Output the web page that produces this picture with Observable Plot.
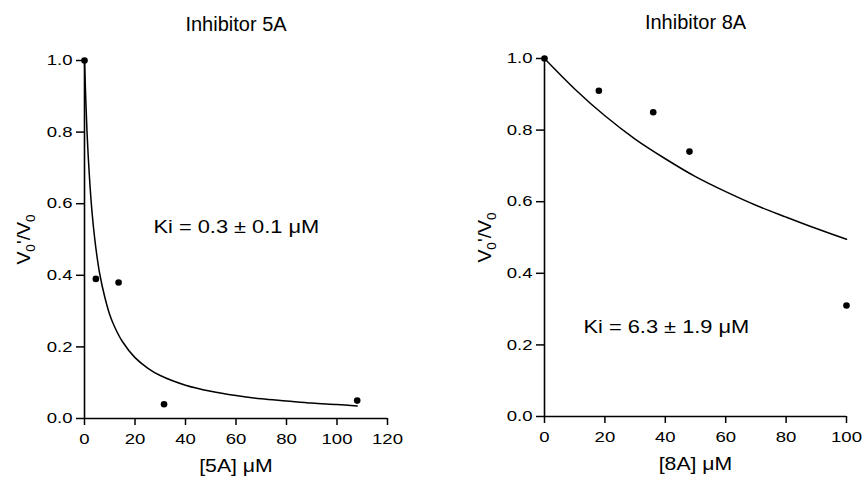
<!DOCTYPE html>
<html><head><meta charset="utf-8">
<script src="https://cdn.jsdelivr.net/npm/d3@7"></script>
<script src="https://cdn.jsdelivr.net/npm/@observablehq/plot@0.6"></script>
<style>
body{margin:0;background:#fff;}
#wrap{display:flex;width:866px;height:479px;overflow:hidden;}
</style></head><body><div id="wrap"></div>
<script>
// ---- data ----
const inhib5A_conc  = [0, 4.5, 13.5, 31.5, 108];
const inhib5A_ratio = [1.0, 0.39, 0.38, 0.04, 0.05];
const fit5A_conc  = [0, 1, 2, 3, 4, 5, 6, 8, 10, 12, 15, 20, 25, 30, 40, 50, 60, 70, 80, 90, 100, 108];
const fit5A_ratio = [1.0, 0.80, 0.67, 0.575, 0.505, 0.45, 0.405, 0.34, 0.29, 0.255, 0.215, 0.17, 0.141, 0.12, 0.093, 0.076, 0.064, 0.055, 0.049, 0.043, 0.039, 0.035];

const inhib8A_conc  = [0, 18, 36, 48, 100];
const inhib8A_ratio = [1.0, 0.91, 0.85, 0.74, 0.31];
const fit8A_conc  = [0, 10, 20, 30, 40, 50, 60, 70, 80, 90, 100];
const fit8A_ratio = [1.0, 0.915, 0.84, 0.775, 0.72, 0.67, 0.628, 0.59, 0.557, 0.525, 0.495];

const yTicks = [0, 0.2, 0.4, 0.6, 0.8, 1.0];
const xTicks5A = [0, 20, 40, 60, 80, 100, 120];
const xTicks8A = [0, 20, 40, 60, 80, 100];
const panelTitles = ["Inhibitor 5A", "Inhibitor 8A"];
const xLabels = ["[5A] \u03BCM", "[8A] \u03BCM"];
const yLabel = "V0'/V0";
const kiLabels = ["Ki = 0.3 \u00B1 0.1 \u03BCM", "Ki = 6.3 \u00B1 1.9 \u03BCM"];

const FONT = "'Liberation Sans', Arial, Helvetica, sans-serif";

function stretchEl(t, sx) {
  const tr = t.getAttribute("transform") || "";
  t.setAttribute("transform", tr + ` scale(${sx},1)`);
}
function stretchSel(svg, sel, sx) {
  svg.querySelectorAll(sel).forEach(t => stretchEl(t, sx));
}
function textsWith(svg, str) {
  return [...svg.querySelectorAll("text")].filter(t => t.textContent === str);
}

function subscriptY(t, fs) {
  t.textContent = "";
  const ns = "http://www.w3.org/2000/svg";
  const sh = fs * 0.28;
  const parts = [["V", 0, null], ["0", sh, "70%"], ["'/V", -sh, null], ["0", sh, "70%"]];
  for (const [str, dy, size] of parts) {
    const ts = document.createElementNS(ns, "tspan");
    ts.textContent = str;
    if (dy) ts.setAttribute("dy", dy);
    if (size) ts.setAttribute("font-size", size);
    t.appendChild(ts);
  }
}

function panel(o) {
  const pts = o.conc.map((c, i) => ({c, r: o.ratio[i]}));
  const fit = o.fitConc.map((c, i) => ({c, r: o.fitRatio[i]}));
  const svg = Plot.plot({
    width: 433, height: 479,
    marginLeft: o.ml, marginRight: o.mr, marginTop: o.mt, marginBottom: o.mb,
    style: {fontFamily: FONT, color: "black", background: "white", overflow: "visible"},
    x: {domain: o.xDomain},
    y: {domain: [0, 1]},
    marks: [
      Plot.axisY({ticks: yTicks, tickFormat: d3.format(".1f"), tickSize: 8, tickPadding: 4, fontSize: 14.5, strokeWidth: 1.5, label: null}),
      Plot.axisX({ticks: o.xTicks, tickFormat: d3.format("d"), tickSize: 7, tickPadding: 8, fontSize: 14.5, strokeWidth: 1.5, label: null}),
      Plot.ruleX([0], {strokeWidth: 1.6}),
      Plot.ruleY([0], {strokeWidth: 1.6}),
      Plot.line(fit, {x: "c", y: "r", curve: "catmull-rom", strokeWidth: 1.5, stroke: "black"}),
      Plot.dot(pts, {x: "c", y: "r", r: 3.3, fill: "black", stroke: "none"}),
      Plot.text([o.title], {text: d => d, frameAnchor: "top", dy: -36, fontSize: 20, lineAnchor: "middle"}),
      Plot.text([o.xLabel], {text: d => d, frameAnchor: "bottom", dy: 53, fontSize: 18, lineAnchor: "bottom"}),
      Plot.text([yLabel], {text: d => d, frameAnchor: "left", dx: o.ylDx, rotate: -90, fontSize: 18, lineAnchor: "middle"}),
      Plot.text([o.ki], {text: d => d, x: o.kiX, y: o.kiY, textAnchor: "start", lineAnchor: "middle", fontSize: 18.5})
    ]
  });
  stretchSel(svg, 'g[aria-label="y-axis tick label"] text', 1.28);
  stretchSel(svg, 'g[aria-label="x-axis tick label"] text', 1.28);
  textsWith(svg, o.xLabel).forEach(t => stretchEl(t, 1.18));
  textsWith(svg, o.ki).forEach(t => stretchEl(t, 1.18));
  return svg;
}

function fixYLabel(svg) {
  textsWith(svg, yLabel).forEach(t => {
    subscriptY(t, 18);
    t.setAttribute("text-anchor", "start");
    const L = t.getComputedTextLength();
    const tr = t.getAttribute("transform") || "";
    t.setAttribute("transform", tr + ` scale(1.08,1) translate(${-L / 2},0)`);
  });
}

const wrap = document.getElementById("wrap");
const s1 = panel({
  conc: inhib5A_conc, ratio: inhib5A_ratio, fitConc: fit5A_conc, fitRatio: fit5A_ratio,
  xDomain: [0, 120], xTicks: xTicks5A, title: panelTitles[0], xLabel: xLabels[0], ki: kiLabels[0],
  kiX: 27.3, kiY: 0.536, ml: 84, mr: 46, mt: 60, mb: 61, ylDx: -60
});
const s2 = panel({
  conc: inhib8A_conc, ratio: inhib8A_ratio, fitConc: fit8A_conc, fitRatio: fit8A_ratio,
  xDomain: [0, 100], xTicks: xTicks8A, title: panelTitles[1], xLabel: xLabels[1], ki: kiLabels[1],
  kiX: 12.9, kiY: 0.249, ml: 111, mr: 20, mt: 58, mb: 63, ylDx: -59
});
wrap.appendChild(s1);
wrap.appendChild(s2);
fixYLabel(s1);
fixYLabel(s2);
</script>
</body></html>
